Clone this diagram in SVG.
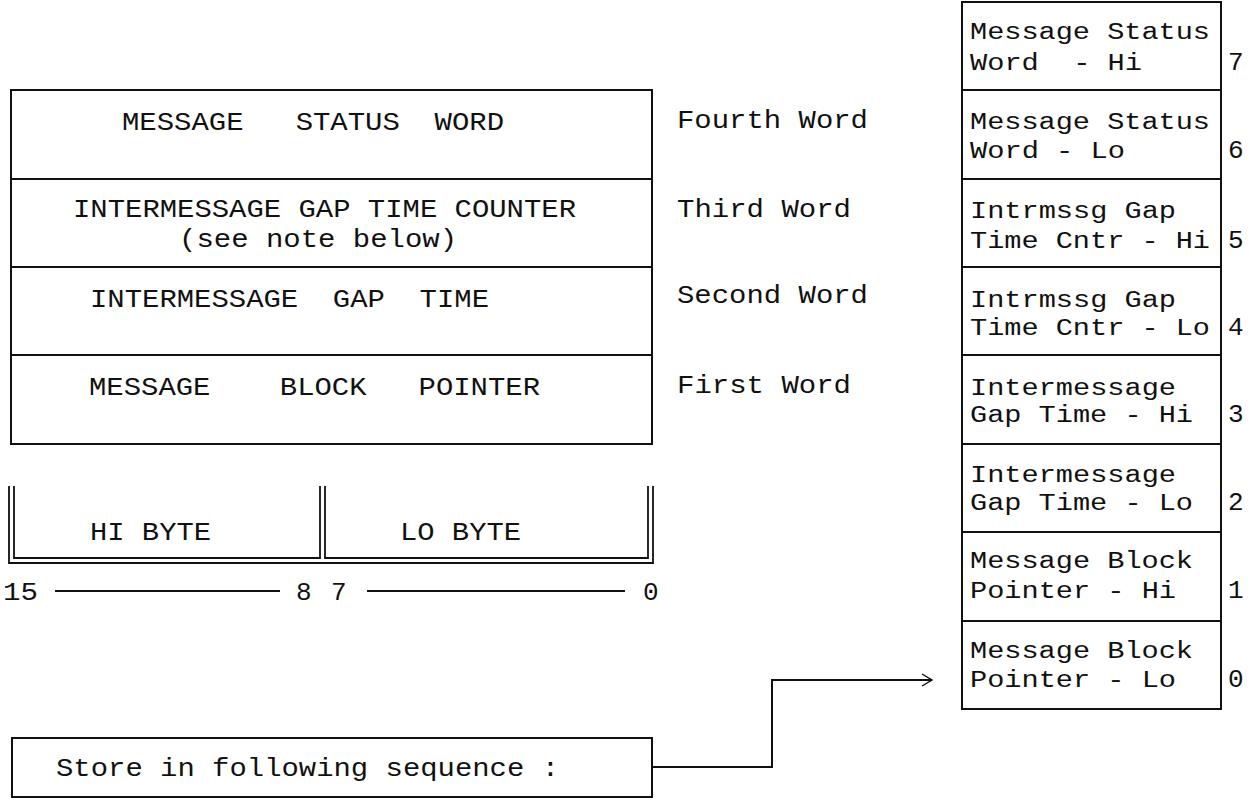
<svg xmlns="http://www.w3.org/2000/svg" width="1253" height="800" viewBox="0 0 1253 800">
<style>
  .box { fill: #fff; stroke: #111; stroke-width: 2; }
  .ln { fill: none; stroke: #111; stroke-width: 2; }
  .dl { fill: none; stroke: #111; stroke-width: 1.8; }
  .t { font-family: "Liberation Mono", "DejaVu Sans Mono", monospace; font-size: 26px; fill: #111; white-space: pre; }
  .s { font-family: "Liberation Mono", "DejaVu Sans Mono", monospace; font-size: 23px; fill: #111; white-space: pre; }
</style>
<defs>
  <marker id="chev" viewBox="0 0 12 14" refX="11" refY="7" markerWidth="12" markerHeight="14" markerUnits="userSpaceOnUse" orient="auto">
    <path d="M1,1 L11,7 L1,13" fill="none" stroke="#111" stroke-width="1.4"/>
  </marker>
</defs>
<rect width="1253" height="800" fill="#fff"/>

<g id="word-table">
  <g id="word4">
    <rect class="box" x="11" y="90" width="641" height="89"/>
    <text class="t" x="122" y="130" textLength="382" lengthAdjust="spacingAndGlyphs" xml:space="preserve">MESSAGE   STATUS  WORD</text>
  </g>
  <g id="word3">
    <rect class="box" x="11" y="179" width="641" height="88"/>
    <text class="t" x="73" y="217" textLength="503" lengthAdjust="spacingAndGlyphs" xml:space="preserve">INTERMESSAGE GAP TIME COUNTER</text>
    <text class="t" x="179" y="247" textLength="278" lengthAdjust="spacingAndGlyphs" xml:space="preserve">(see note below)</text>
  </g>
  <g id="word2">
    <rect class="box" x="11" y="267" width="641" height="88"/>
    <text class="t" x="90" y="307" textLength="399" lengthAdjust="spacingAndGlyphs" xml:space="preserve">INTERMESSAGE  GAP  TIME</text>
  </g>
  <g id="word1">
    <rect class="box" x="11" y="355" width="641" height="89"/>
    <text class="t" x="89" y="395" textLength="451" lengthAdjust="spacingAndGlyphs" xml:space="preserve">MESSAGE    BLOCK   POINTER</text>
  </g>
</g>

<g id="word-labels">
  <text class="t" x="677" y="128" textLength="191" lengthAdjust="spacingAndGlyphs">Fourth Word</text>
  <text class="t" x="677" y="217" textLength="174" lengthAdjust="spacingAndGlyphs">Third Word</text>
  <text class="t" x="677" y="303" textLength="191" lengthAdjust="spacingAndGlyphs">Second Word</text>
  <text class="t" x="677" y="393" textLength="174" lengthAdjust="spacingAndGlyphs">First Word</text>
</g>

<g id="bytes">
  <path class="dl" d="M9,486 V563 H653 V486"/>
  <path class="dl" d="M14,486 V558 H320 V486"/>
  <path class="dl" d="M325,486 V558 H648 V486"/>
  <text class="t" x="90" y="540" textLength="121" lengthAdjust="spacingAndGlyphs">HI BYTE</text>
  <text class="t" x="400" y="540" textLength="121" lengthAdjust="spacingAndGlyphs">LO BYTE</text>
</g>

<g id="bit-scale">
  <text class="t" x="3" y="600" textLength="35" lengthAdjust="spacingAndGlyphs">15</text>
  <line class="ln" x1="55" y1="591" x2="280" y2="591"/>
  <text class="t" x="296" y="600">8</text>
  <text class="t" x="331" y="600">7</text>
  <line class="ln" x1="367" y1="591" x2="625" y2="591"/>
  <text class="t" x="643" y="600">0</text>
</g>

<g id="store-box">
  <rect class="box" x="12" y="738" width="640" height="59"/>
  <text class="t" x="56" y="776" textLength="503" lengthAdjust="spacingAndGlyphs" xml:space="preserve">Store in following sequence :</text>
</g>

<g id="connectors">
  <path class="ln" d="M652,767 H772 V680 H932" marker-end="url(#chev)"/>
</g>

<g id="sequence">
  <g id="byte7">
    <rect class="box" x="962" y="2" width="259" height="88"/>
    <text class="s" x="970" y="39" textLength="240" lengthAdjust="spacingAndGlyphs">Message Status</text>
    <text class="s" x="970" y="70" textLength="172" lengthAdjust="spacingAndGlyphs" xml:space="preserve">Word  - Hi</text>
    <text class="t" x="1228" y="70">7</text>
  </g>
  <g id="byte6">
    <rect class="box" x="962" y="90" width="259" height="89"/>
    <text class="s" x="970" y="129" textLength="240" lengthAdjust="spacingAndGlyphs">Message Status</text>
    <text class="s" x="970" y="158" textLength="155" lengthAdjust="spacingAndGlyphs">Word - Lo</text>
    <text class="t" x="1228" y="158">6</text>
  </g>
  <g id="byte5">
    <rect class="box" x="962" y="179" width="259" height="88"/>
    <text class="s" x="970" y="218" textLength="206" lengthAdjust="spacingAndGlyphs">Intrmssg Gap</text>
    <text class="s" x="970" y="248" textLength="240" lengthAdjust="spacingAndGlyphs">Time Cntr - Hi</text>
    <text class="t" x="1228" y="248">5</text>
  </g>
  <g id="byte4">
    <rect class="box" x="962" y="267" width="259" height="88"/>
    <text class="s" x="970" y="307" textLength="206" lengthAdjust="spacingAndGlyphs">Intrmssg Gap</text>
    <text class="s" x="970" y="335" textLength="240" lengthAdjust="spacingAndGlyphs">Time Cntr - Lo</text>
    <text class="t" x="1228" y="335">4</text>
  </g>
  <g id="byte3">
    <rect class="box" x="962" y="355" width="259" height="89"/>
    <text class="s" x="970" y="395" textLength="206" lengthAdjust="spacingAndGlyphs">Intermessage</text>
    <text class="s" x="970" y="422" textLength="223" lengthAdjust="spacingAndGlyphs">Gap Time - Hi</text>
    <text class="t" x="1228" y="422">3</text>
  </g>
  <g id="byte2">
    <rect class="box" x="962" y="444" width="259" height="88"/>
    <text class="s" x="970" y="482" textLength="206" lengthAdjust="spacingAndGlyphs">Intermessage</text>
    <text class="s" x="970" y="510" textLength="223" lengthAdjust="spacingAndGlyphs">Gap Time - Lo</text>
    <text class="t" x="1228" y="510">2</text>
  </g>
  <g id="byte1">
    <rect class="box" x="962" y="532" width="259" height="89"/>
    <text class="s" x="970" y="568" textLength="223" lengthAdjust="spacingAndGlyphs">Message Block</text>
    <text class="s" x="970" y="598" textLength="206" lengthAdjust="spacingAndGlyphs">Pointer - Hi</text>
    <text class="t" x="1228" y="598">1</text>
  </g>
  <g id="byte0">
    <rect class="box" x="962" y="621" width="259" height="88"/>
    <text class="s" x="970" y="658" textLength="223" lengthAdjust="spacingAndGlyphs">Message Block</text>
    <text class="s" x="970" y="687" textLength="206" lengthAdjust="spacingAndGlyphs">Pointer - Lo</text>
    <text class="t" x="1228" y="687">0</text>
  </g>
</g>
</svg>
